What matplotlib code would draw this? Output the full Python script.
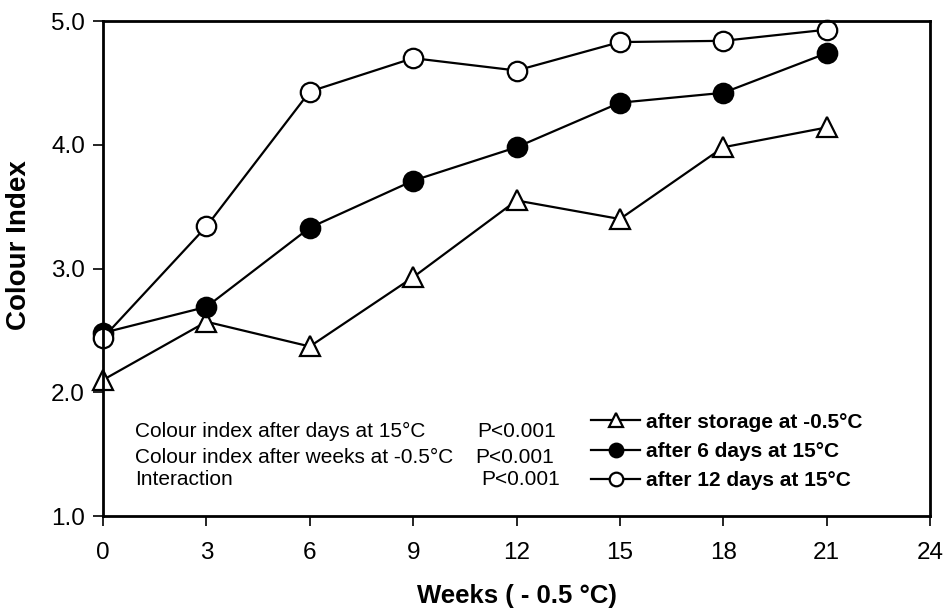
import numpy as np
import matplotlib
matplotlib.use("Agg")
import matplotlib.pyplot as plt

plt.rcParams['font.family'] = ['Liberation Sans', 'DejaVu Sans']

weeks = [0, 3, 6, 9, 12, 15, 18, 21]
after_storage = [2.10, 2.57, 2.37, 2.93, 3.55, 3.40, 3.98, 4.14]
after_6_days = [2.48, 2.69, 3.33, 3.71, 3.98, 4.34, 4.42, 4.74]
after_12_days = [2.44, 3.34, 4.43, 4.70, 4.60, 4.83, 4.84, 4.93]

series_labels = ['after storage at -0.5°C', 'after 6 days at 15°C', 'after 12 days at 15°C']
stats_labels = ['Colour index after days at 15°C', 'Colour index after weeks at -0.5°C', 'Interaction']
p_values = ['P<0.001', 'P<0.001', 'P<0.001']

fig = plt.figure(figsize=(9.48, 6.13), dpi=100)
ax = fig.add_axes([0.1087, 0.1582, 0.8724, 0.8075])

ms = 14
lw = 1.6
ax.plot(weeks, after_storage, color='black', lw=lw, marker='^', ms=ms,
        mfc='white', mec='black', mew=1.6, label=series_labels[0], clip_on=False)
ax.plot(weeks, after_6_days, color='black', lw=lw, marker='o', ms=ms,
        mfc='black', mec='black', mew=1.6, label=series_labels[1], clip_on=False)
ax.plot(weeks, after_12_days, color='black', lw=lw, marker='o', ms=ms,
        mfc='white', mec='black', mew=1.6, label=series_labels[2], clip_on=False)

ax.set_xlim(0, 24)
ax.set_ylim(1.0, 5.0)
ax.set_xticks(np.arange(0, 25, 3))
ax.set_yticks(np.arange(1.0, 5.01, 1.0))
ax.set_yticklabels([f'{v:.1f}' for v in np.arange(1.0, 5.01, 1.0)])
ax.tick_params(direction='out', length=7, width=1.2, labelsize=17.5, pad=6)
ax.tick_params(axis='x', pad=12)
for s in ax.spines.values():
    s.set_linewidth(2)

ax.set_xlabel('Weeks ( - 0.5 °C)', fontsize=18.5, fontweight='bold', labelpad=14)
ax.set_ylabel('Colour Index', fontsize=20, fontweight='bold')
ax.yaxis.set_label_coords(-0.086, 0.547)

# statistics block
rows_y = [0.170, 0.119, 0.073]
p_x = [0.453, 0.450, 0.457]
for lab, p, y, px in zip(stats_labels, p_values, rows_y, p_x):
    ax.text(0.0387, y, lab, transform=ax.transAxes, fontsize=15, va='center')
    ax.text(px, y, p, transform=ax.transAxes, fontsize=15, va='center')

leg = ax.legend(loc='lower left', bbox_to_anchor=(0.58, 0.035), frameon=False,
                prop={'weight': 'bold', 'size': 15}, handlelength=2.35,
                handletextpad=0.3, labelspacing=0.5, markerscale=0.7,
                borderaxespad=0)

fig.savefig('out.png', dpi=100)
